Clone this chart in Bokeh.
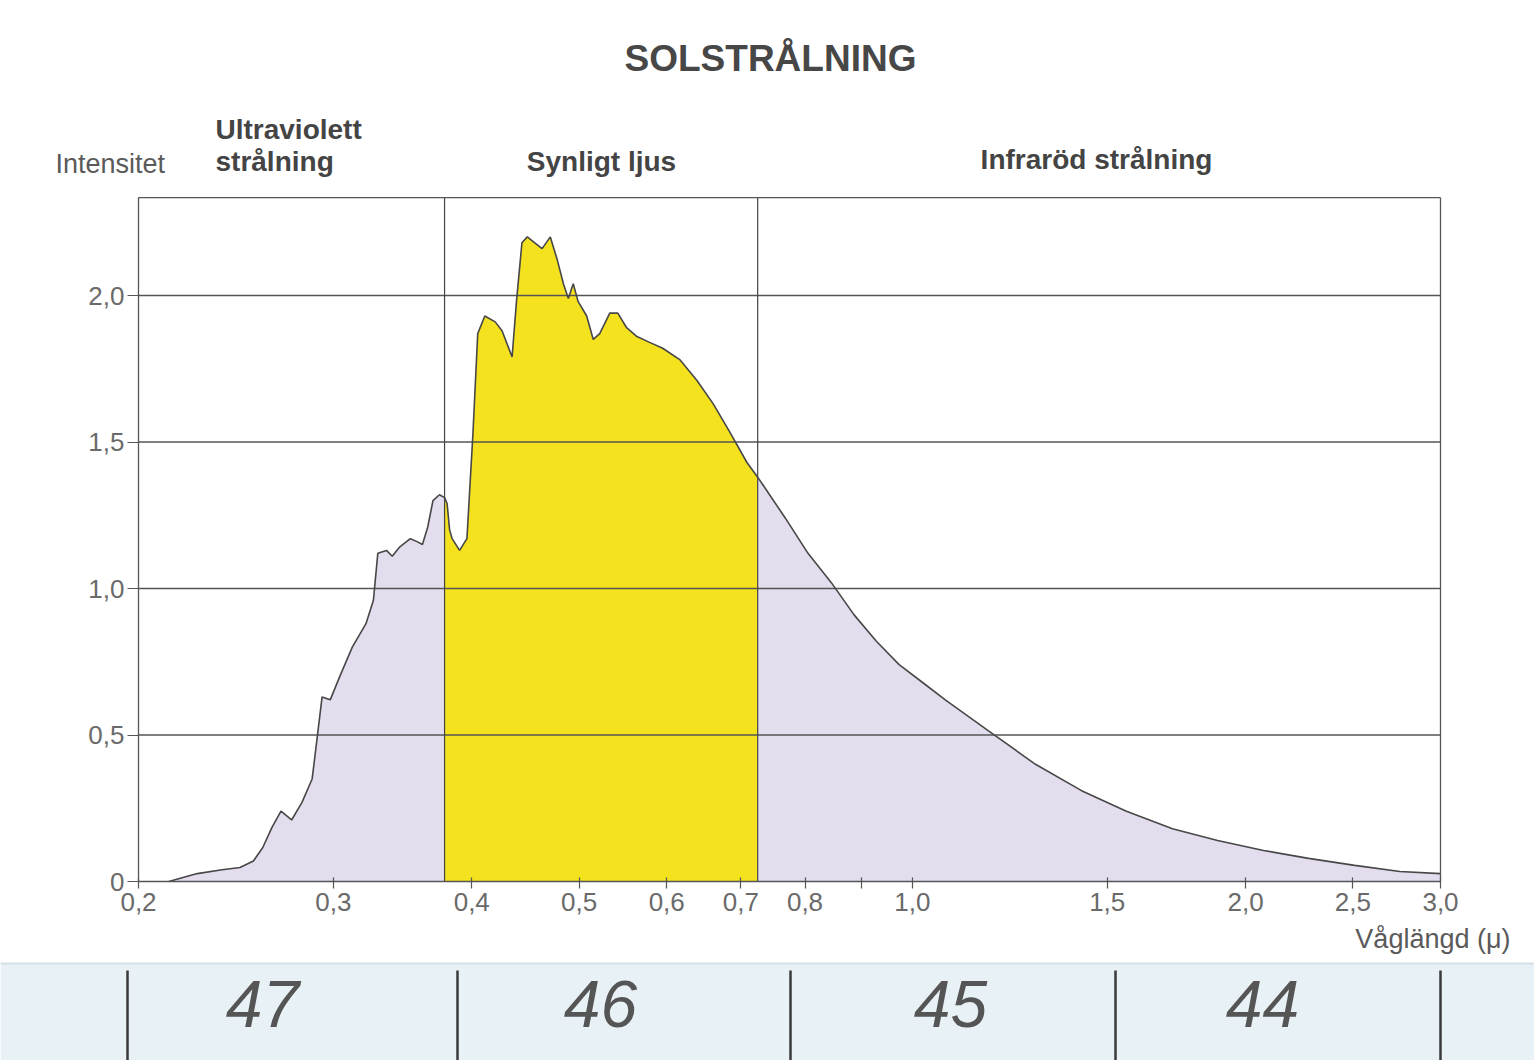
import math
from bokeh.plotting import figure
from bokeh.models import Range1d, FixedTicker, Label
from bokeh.core.properties import value
from bokeh.embed import file_html
from bokeh.resources import INLINE

# ---------------- data ----------------
# Ultraviolet part of the spectrum (wavelength in micrometres, intensity)
uv_wl = [0.213, 0.226, 0.238, 0.247, 0.254, 0.259, 0.264, 0.269, 0.275, 0.281,
         0.287, 0.290, 0.293, 0.298, 0.304, 0.312, 0.321, 0.326, 0.329, 0.335,
         0.339, 0.344, 0.352, 0.357, 0.361, 0.365, 0.369, 0.374, 0.378]
uv_int = [0.0, 0.027, 0.04, 0.048, 0.07, 0.116, 0.185, 0.24, 0.21, 0.27,
          0.35, 0.49, 0.63, 0.62, 0.70, 0.80, 0.88, 0.96, 1.12, 1.13,
          1.11, 1.14, 1.17, 1.16, 1.15, 1.21, 1.30, 1.32, 1.31]

# Visible light
vis_wl = [0.378, 0.380, 0.382, 0.384, 0.390, 0.396, 0.401, 0.405, 0.411, 0.420,
          0.426, 0.435, 0.439, 0.444, 0.449, 0.456, 0.463, 0.471, 0.478, 0.484,
          0.489, 0.494, 0.499, 0.508, 0.515, 0.522, 0.533, 0.542, 0.552, 0.564,
          0.579, 0.595, 0.617, 0.639, 0.661, 0.685, 0.709, 0.725]
vis_int = [1.31, 1.29, 1.20, 1.17, 1.13, 1.17, 1.53, 1.87, 1.93, 1.91,
           1.88, 1.79, 1.98, 2.18, 2.20, 2.18, 2.16, 2.20, 2.12, 2.04,
           1.99, 2.04, 1.98, 1.93, 1.85, 1.87, 1.94, 1.94, 1.89, 1.86,
           1.84, 1.82, 1.78, 1.71, 1.63, 1.53, 1.43, 1.38]

# Infrared
ir_wl = [0.725, 0.768, 0.805, 0.845, 0.886, 0.928, 0.973, 1.021, 1.071, 1.176,
         1.292, 1.422, 1.561, 1.718, 1.887, 2.076, 2.280, 2.510, 2.757, 3.0]
ir_int = [1.38, 1.24, 1.12, 1.02, 0.91, 0.82, 0.74, 0.68, 0.62, 0.51,
          0.40, 0.31, 0.24, 0.18, 0.14, 0.106, 0.079, 0.055, 0.034, 0.027]

region_bounds = [0.378, 0.725]

x_ticks = [0.2, 0.3, 0.4, 0.5, 0.6, 0.7, 0.8, 0.9, 1.0, 1.5, 2.0, 2.5, 3.0]
x_tick_labels = ["0,2", "0,3", "0,4", "0,5", "0,6", "0,7", "0,8", "", "1,0",
                 "1,5", "2,0", "2,5", "3,0"]
y_ticks = [0, 0.5, 1.0, 1.5, 2.0]
y_tick_labels = ["0", "0,5", "1,0", "1,5", "2,0"]

page_numbers = ["47", "46", "45", "44"]

# ---------------- geometry / styling ----------------
FONT = "Liberation Sans"
YELLOW = "#f4e21e"
LAVENDER = "#e3ddee"
INK = "#474747"
GRID = "#555555"

W, H = 1534, 1060
X0, X1 = 0.2, 3.0                 # data extent of the chart box
YMAX = 2.334
PX_L, PX_R = 138, 1440            # page pixels of X0 / X1
PY_0, PX_PER_UNIT = 881, 293.0    # page pixel of y=0, pixels per unit

dec = (PX_R - PX_L) / math.log10(X1 / X0)
xa = X0 * 10 ** (-PX_L / dec)
xb = X1 * 10 ** ((W - PX_R) / dec)
ya = -(H - PY_0) / PX_PER_UNIT
yb = PY_0 / PX_PER_UNIT


def fx(px):
    return xa * 10 ** (px / dec)


def fy(py):
    return (PY_0 - py) / PX_PER_UNIT


p = figure(width=W, height=H, x_axis_type="log",
           x_range=Range1d(xa, xb), y_range=Range1d(ya, yb),
           output_backend="svg", toolbar_location=None,
           min_border=0, background_fill_color="white",
           border_fill_color="white", outline_line_color=None)
p.grid.visible = False

# scanned-page strip at the bottom
p.quad(left=fx(0), right=fx(W), bottom=fy(H + 5), top=fy(963),
       fill_color="#e8f1f5", line_color=None)
p.segment(x0=fx(0), y0=fy(963), x1=fx(W), y1=fy(963),
          line_color="#d5e0e6", line_width=2)

# fills
p.varea(x=uv_wl, y1=0, y2=uv_int, fill_color=LAVENDER)
p.varea(x=vis_wl, y1=0, y2=vis_int, fill_color=YELLOW)
p.varea(x=ir_wl, y1=0, y2=ir_int, fill_color=LAVENDER)

# horizontal grid lines and region boundaries
gy = y_ticks[1:]
p.segment(x0=[X0] * len(gy), y0=gy, x1=[X1] * len(gy), y1=gy,
          line_color=GRID, line_width=1.3)
p.segment(x0=region_bounds, y0=[0] * 2, x1=region_bounds, y1=[YMAX] * 2,
          line_color="#444444", line_width=1.2)

# curve outline
all_wl = uv_wl + vis_wl[1:] + ir_wl[1:]
all_int = uv_int + vis_int[1:] + ir_int[1:]
p.line(all_wl, all_int, line_color=INK, line_width=1.6)

# box: top and right edges
p.segment(x0=[X0, X1], y0=[YMAX, 0], x1=[X1, X1], y1=[YMAX, YMAX],
          line_color=GRID, line_width=1.3)

# axes at fixed positions
p.xaxis.fixed_location = 0
p.xaxis.bounds = (X0, X1)
p.yaxis.fixed_location = X0
p.yaxis.bounds = (0, YMAX)
p.xaxis.ticker = FixedTicker(ticks=x_ticks)
p.xaxis.major_label_overrides = {t: l for t, l in zip(x_ticks, x_tick_labels)}
p.yaxis.ticker = FixedTicker(ticks=y_ticks)
p.yaxis.major_label_overrides = {t: l for t, l in zip(y_ticks, y_tick_labels)}
for ax in (p.xaxis, p.yaxis):
    ax.axis_line_color = GRID
    ax.axis_line_width = 1.3
    ax.major_tick_line_color = GRID
    ax.major_tick_line_width = 1.2
    ax.minor_tick_line_color = None
    ax.major_label_text_font = FONT
    ax.major_label_text_font_size = "26px"
    ax.major_label_text_color = "#6a6a6a"
p.xaxis.major_tick_out = 7
p.xaxis.major_tick_in = 4
p.xaxis.major_label_standoff = 4
p.yaxis.major_tick_out = 11
p.yaxis.major_tick_in = 0
p.yaxis.major_label_standoff = 3


def label(text, px, py, size, bold=False, align="left", color="#444444"):
    p.add_layout(Label(x=fx(px), y=fy(py), text=text, text_font=FONT,
                       text_font_size=size,
                       text_font_style="bold" if bold else "normal",
                       text_align=align, text_baseline="middle",
                       text_color=color))


label("SOLSTRÅLNING", 770, 58, "37px", bold=True, align="center", color="#474747")
label("Intensitet", 55, 163, "27px", color="#5a5a5a")
label("Ultraviolett", 215, 129, "28px", bold=True)
label("strålning", 215, 161, "28px", bold=True)
label("Synligt ljus", 601, 161, "28px", bold=True, align="center")
label("Infraröd strålning", 1096, 159, "28px", bold=True, align="center")
label("Våglängd (μ)", 1510, 938, "27px", align="right", color="#5a5a5a")

# handwritten page numbers with dividers
bar_px = [127, 457, 790, 1115, 1440]
p.segment(x0=[fx(v) for v in bar_px], y0=[fy(970)] * len(bar_px),
          x1=[fx(v) for v in bar_px], y1=[fy(H + 5)] * len(bar_px),
          line_color="#3a3a3a", line_width=2.5)
num_px = [262, 600, 950, 1262]
p.text(x=[fx(v) for v in num_px], y=[fy(1003)] * len(num_px), text=page_numbers,
       text_font=value(FONT), text_font_style="italic", text_font_size="66px",
       text_align="center", text_baseline="middle", text_color="#555555")

open("out.html", "w").write(file_html(p, INLINE))
